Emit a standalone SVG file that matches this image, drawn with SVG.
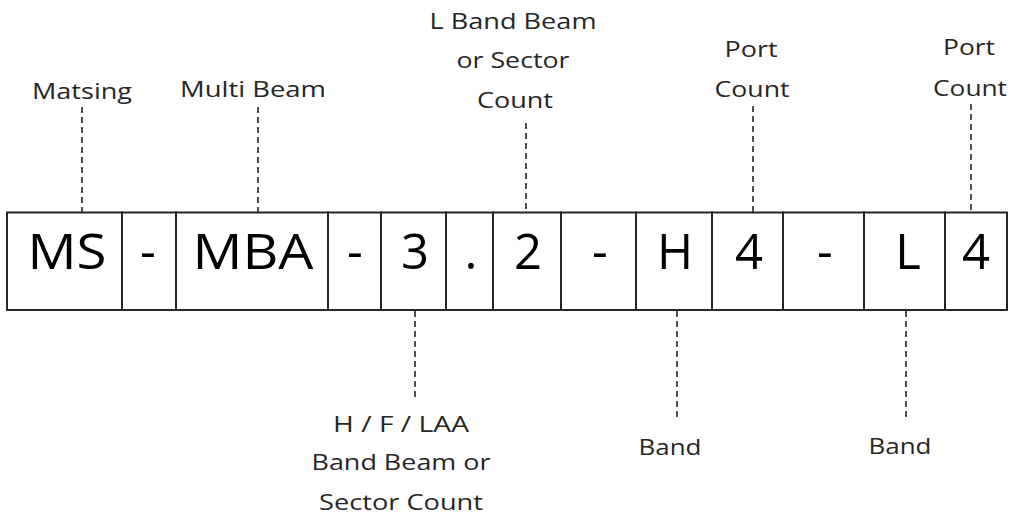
<svg xmlns="http://www.w3.org/2000/svg" width="1011" height="516" viewBox="0 0 1011 516">
<style>
.lbl{font-family:"Open Sans","Noto Sans",sans-serif;font-size:22px;fill:#262626;text-anchor:middle}
.big{font-family:"Open Sans","Noto Sans",sans-serif;font-size:49px;fill:#000;text-anchor:middle}
.cell{fill:#fff;stroke:#262626;stroke-width:2}
.conn{stroke:#262626;stroke-width:1.6;stroke-dasharray:6 4;fill:none}
</style>
<rect width="1011" height="516" fill="#fff"/>
<g id="connectors">
<line class="conn" x1="82" y1="107" x2="82" y2="212"/>
<line class="conn" x1="258" y1="107" x2="258" y2="212"/>
<line class="conn" x1="526" y1="123" x2="526" y2="212"/>
<line class="conn" x1="753" y1="106" x2="753" y2="212"/>
<line class="conn" x1="971" y1="104" x2="971" y2="212"/>
<line class="conn" x1="415" y1="311" x2="415" y2="397"/>
<line class="conn" x1="677" y1="311" x2="677" y2="417"/>
<line class="conn" x1="906" y1="311" x2="906" y2="417"/>
</g>
<g id="code">
<g id="cell-ms"><rect class="cell" x="7" y="212.5" width="115" height="97.5"/><text class="big" x="67" y="269" textLength="79" lengthAdjust="spacingAndGlyphs">MS</text></g>
<g id="cell-dash1"><rect class="cell" x="122" y="212.5" width="54" height="97.5"/><text class="big" x="148" y="269">-</text></g>
<g id="cell-mba"><rect class="cell" x="176" y="212.5" width="152" height="97.5"/><text class="big" x="253" y="269" textLength="121" lengthAdjust="spacingAndGlyphs">MBA</text></g>
<g id="cell-dash2"><rect class="cell" x="328" y="212.5" width="53" height="97.5"/><text class="big" x="355" y="269">-</text></g>
<g id="cell-3"><rect class="cell" x="381" y="212.5" width="65" height="97.5"/><text class="big" x="415" y="269">3</text></g>
<g id="cell-dot"><rect class="cell" x="446" y="212.5" width="47" height="97.5"/><text class="big" x="471" y="269">.</text></g>
<g id="cell-2"><rect class="cell" x="493" y="212.5" width="68" height="97.5"/><text class="big" x="528" y="269">2</text></g>
<g id="cell-dash3"><rect class="cell" x="561" y="212.5" width="75" height="97.5"/><text class="big" x="600" y="269">-</text></g>
<g id="cell-h"><rect class="cell" x="636" y="212.5" width="76" height="97.5"/><text class="big" x="675" y="269">H</text></g>
<g id="cell-4a"><rect class="cell" x="712" y="212.5" width="71" height="97.5"/><text class="big" x="749" y="269">4</text></g>
<g id="cell-dash4"><rect class="cell" x="783" y="212.5" width="81" height="97.5"/><text class="big" x="825" y="269">-</text></g>
<g id="cell-l"><rect class="cell" x="864" y="212.5" width="81" height="97.5"/><text class="big" x="908" y="269">L</text></g>
<g id="cell-4b"><rect class="cell" x="945" y="212.5" width="62" height="97.5"/><text class="big" x="976" y="269">4</text></g>
</g>
<g id="label-matsing"><text class="lbl" x="82" y="99" textLength="100" lengthAdjust="spacingAndGlyphs">Matsing</text></g>
<g id="label-multibeam"><text class="lbl" x="253" y="97" textLength="146" lengthAdjust="spacingAndGlyphs">Multi Beam</text></g>
<g id="label-lband">
<text class="lbl" x="513" y="29" textLength="167" lengthAdjust="spacingAndGlyphs">L Band Beam</text>
<text class="lbl" x="513" y="68" textLength="113" lengthAdjust="spacingAndGlyphs">or Sector</text>
<text class="lbl" x="515" y="108" textLength="76" lengthAdjust="spacingAndGlyphs">Count</text>
</g>
<g id="label-port1">
<text class="lbl" x="751" y="57" textLength="53" lengthAdjust="spacingAndGlyphs">Port</text>
<text class="lbl" x="752" y="97" textLength="75" lengthAdjust="spacingAndGlyphs">Count</text>
</g>
<g id="label-port2">
<text class="lbl" x="969" y="55" textLength="52" lengthAdjust="spacingAndGlyphs">Port</text>
<text class="lbl" x="970" y="96" textLength="74" lengthAdjust="spacingAndGlyphs">Count</text>
</g>
<g id="label-hflaa">
<text class="lbl" x="401" y="432" textLength="136" lengthAdjust="spacingAndGlyphs">H / F / LAA</text>
<text class="lbl" x="401" y="470" textLength="179" lengthAdjust="spacingAndGlyphs">Band Beam or</text>
<text class="lbl" x="401" y="510" textLength="164" lengthAdjust="spacingAndGlyphs">Sector Count</text>
</g>
<g id="label-band1"><text class="lbl" x="670" y="455" textLength="63" lengthAdjust="spacingAndGlyphs">Band</text></g>
<g id="label-band2"><text class="lbl" x="900" y="454" textLength="63" lengthAdjust="spacingAndGlyphs">Band</text></g>
</svg>
